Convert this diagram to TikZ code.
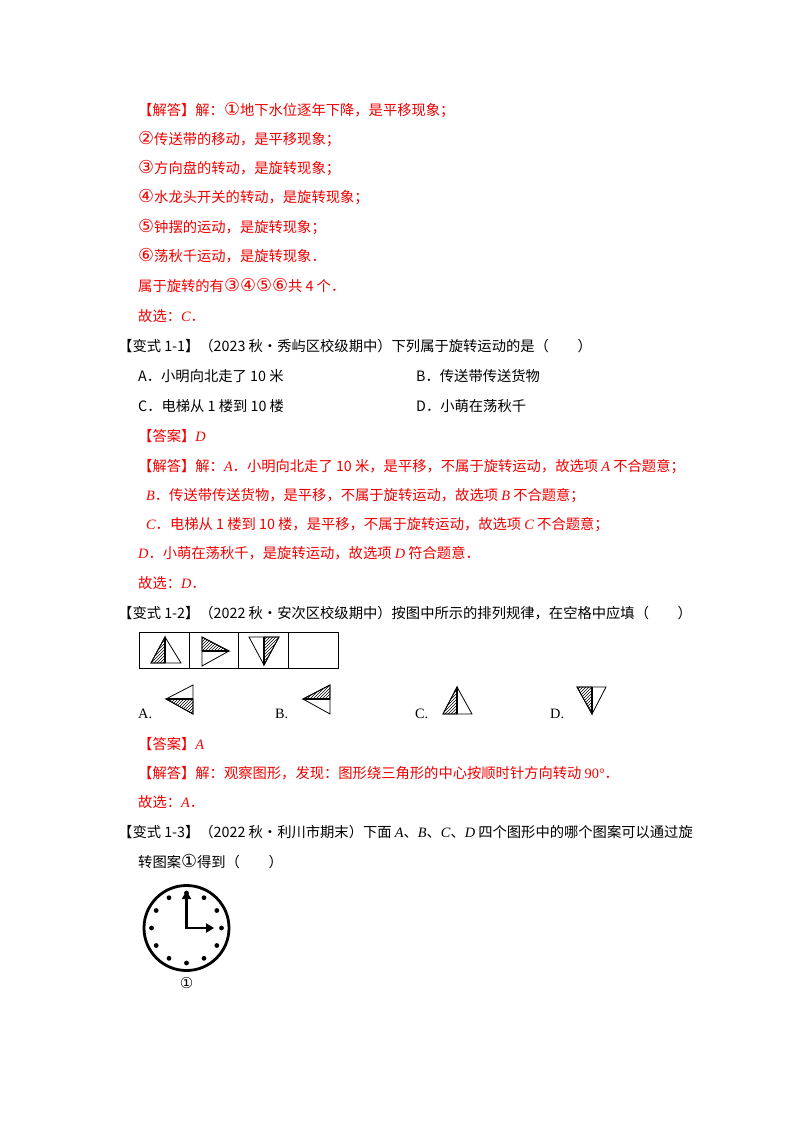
\documentclass[tikz,border=0pt]{standalone}
\usepackage{fontspec}
\setmainfont{Noto Sans CJK SC}
\newfontfamily\lat{Liberation Serif}
\newfontfamily\dv[Scale=1.25]{DejaVu Sans}
\usetikzlibrary{patterns,arrows.meta,calc}
\newcommand\I[1]{{\lat\itshape #1}}
\newcommand\C[1]{{\dv #1}}
\definecolor{ansred}{RGB}{240,0,0}
\begin{document}
\begin{tikzpicture}[x=1pt,y=-1pt,
  tx/.style={anchor=base west,inner sep=0pt,font=\fontsize{14.3}{16}\selectfont},
  rd/.style={tx,text=ansred},
  tri/.style={draw,line width=0.8pt},
  hat/.style={pattern=north east lines,draw,line width=0.8pt},
  hand/.style={line width=2.8pt,-{Triangle[length=8pt,width=9pt]}}]
\useasboundingbox (0,0) rectangle (800,1132);
\node[rd] (l1) at (138,115) {【解答】解：\C{①}地下水位逐年下降，是平移现象；};
\node[rd] (l2) at (138,144) {\C{②}传送带的移动，是平移现象；};
\node[rd] (l3) at (138,173) {\C{③}方向盘的转动，是旋转现象；};
\node[rd] (l4) at (138,202) {\C{④}水龙头开关的转动，是旋转现象；};
\node[rd] (l5) at (138,232) {\C{⑤}钟摆的运动，是旋转现象；};
\node[rd] (l6) at (138,261) {\C{⑥}荡秋千运动，是旋转现象．};
\node[rd] (l7) at (138,291) {属于旋转的有\C{③④⑤⑥}共 4 个．};
\node[rd] (l8) at (138,321) {故选：\I{C}．};
\node[tx] (q1) at (118,351) {【变式 1-1】（2023 秋•秀屿区校级期中）下列属于旋转运动的是（\quad\quad）};
\node[tx] (q1a) at (138,381) {A．小明向北走了 10 米};
\node[tx] (q1b) at (416,381) {B．传送带传送货物};
\node[tx] (q1c) at (138,411) {C．电梯从 1 楼到 10 楼};
\node[tx] (q1d) at (416,411) {D．小萌在荡秋千};
\node[rd] (a1) at (138,441) {【答案】\I{D}};
\node[rd] (s1) at (138,471) {【解答】解：\I{A}．小明向北走了 10 米，是平移，不属于旋转运动，故选项 \I{A} 不合题意；};
\node[rd] (s2) at (146,500) {\I{B}．传送带传送货物，是平移，不属于旋转运动，故选项 \I{B} 不合题意；};
\node[rd] (s3) at (146,529) {\I{C}．电梯从 1 楼到 10 楼，是平移，不属于旋转运动，故选项 \I{C} 不合题意；};
\node[rd] (s4) at (138,558) {\I{D}．小萌在荡秋千，是旋转运动，故选项 \I{D} 符合题意．};
\node[rd] (s5) at (138,588) {故选：\I{D}．};
\node[tx] (q2) at (118,618) {【变式 1-2】（2022 秋•安次区校级期中）按图中所示的排列规律，在空格中应填（\quad\quad）};
% table
\draw[line width=0.9pt] (139,632) rectangle (338,668);
\foreach \x in {189,238,288} \draw[line width=0.6pt] (\x,632) -- (\x,668);
\fill[hat] (165,637) -- (151,663) -- (165,663) -- cycle;
\draw[tri] (165,637) -- (181,663) -- (151,663) -- cycle;
\draw[line width=1.5pt] (165,637) -- (165,663);
\fill[hat] (202,637) -- (229,651) -- (202,651) -- cycle;
\draw[tri] (202,637) -- (229,651) -- (202,666) -- cycle;
\draw[line width=1.5pt] (202,651) -- (229,651);
\fill[hat] (264,637) -- (279,637) -- (264,665) -- cycle;
\draw[tri] (249,637) -- (279,637) -- (264,665) -- cycle;
\draw[line width=1.5pt] (264,637) -- (264,665);
% options
\node[tx] (oa) at (138,718) {\lat A.};
\node[tx] (ob) at (275,718) {\lat B.};
\node[tx] (oc) at (415,718) {\lat C.};
\node[tx] (od) at (550,718) {\lat D.};
\fill[hat] (166,699) -- (193,699) -- (193,714) -- cycle;
\draw[tri] (166,699) -- (193,685) -- (193,714) -- cycle;
\draw[line width=1.5pt] (166,699) -- (193,699);
\fill[hat] (303,699) -- (330,685) -- (330,699) -- cycle;
\draw[tri] (303,699) -- (330,685) -- (330,714) -- cycle;
\draw[line width=1.5pt] (303,699) -- (330,699);
\fill[hat] (457,687) -- (443,714) -- (457,714) -- cycle;
\draw[tri] (457,687) -- (472,714) -- (443,714) -- cycle;
\draw[line width=1.5pt] (457,687) -- (457,714);
\fill[hat] (577,687) -- (592,687) -- (592,714) -- cycle;
\draw[tri] (577,687) -- (606,687) -- (592,714) -- cycle;
\draw[line width=1.5pt] (592,687) -- (592,714);
\node[rd] (a2) at (138,749) {【答案】\I{A}};
\node[rd] (s6) at (138,778) {【解答】解：观察图形，发现：图形绕三角形的中心按顺时针方向转动 {\lat 90°}．};
\node[rd] (s7) at (138,807) {故选：\I{A}．};
\node[tx] (q3) at (118,837) {【变式 1-3】（2022 秋•利川市期末）下面 \I{A}、\I{B}、\I{C}、\I{D} 四个图形中的哪个图案可以通过旋};
\node[tx] (q3b) at (138,867) {转图案\C{①}得到（\quad\quad）};
% clock
\coordinate (c) at (186.5,928);
\draw[line width=2.8pt] (c) circle[radius=42.5];
\foreach \a in {0,30,...,330} \fill ($(c)+(\a:35)$) circle[radius=2.4];
\draw[hand] (c) -- ++(0,-37);
\draw[hand] ([xshift=-1.4pt]c) -- ++(29,0);
\node[inner sep=0pt,font=\fontsize{12}{12}\selectfont] (n1) at (186.5,983) {\C{①}};
\end{tikzpicture}
\end{document}
